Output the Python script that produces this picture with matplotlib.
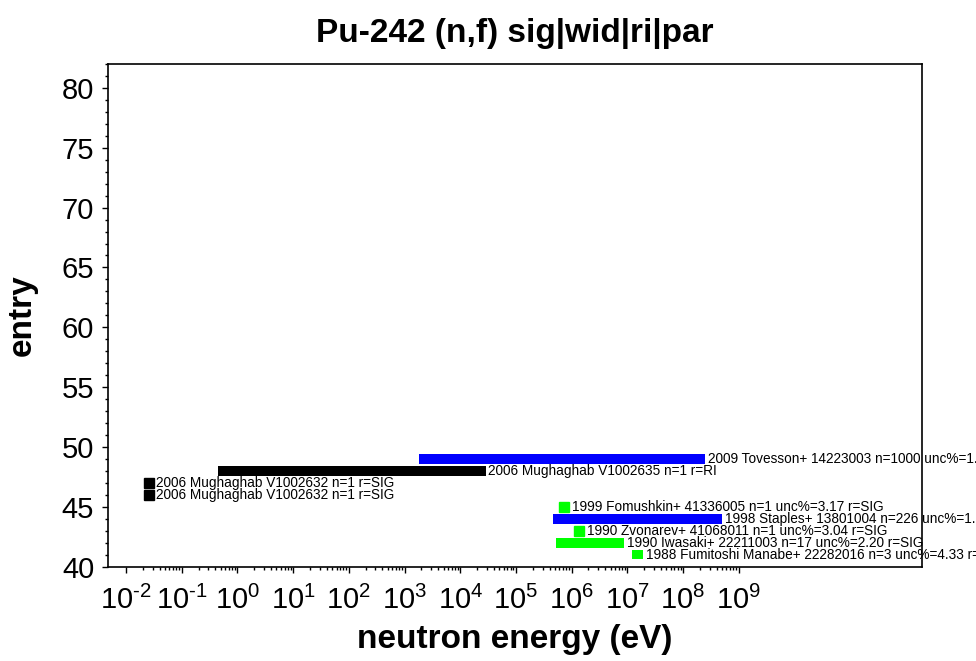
import matplotlib
matplotlib.use("Agg")
import matplotlib.pyplot as plt
from matplotlib.ticker import FixedLocator, MultipleLocator, FuncFormatter
import numpy as np

plt.rcParams['font.family'] = ['Liberation Sans', 'DejaVu Sans']
plt.rcParams['mathtext.fontset'] = 'custom'
plt.rcParams['mathtext.rm'] = 'Liberation Sans'
plt.rcParams['mathtext.it'] = 'Liberation Sans'
plt.rcParams['mathtext.bf'] = 'Liberation Sans:bold'
plt.rcParams['axes.unicode_minus'] = False

# one row per dataset (entry number on the y axis)
entries = [49, 48, 47, 46, 45, 44, 43, 42, 41]
e_low   = [1.8e3, 0.45, 0.0253, 0.0253, 7.4e5, 4.6e5, 1.37e6, 5.2e5, 1.2e7]
e_high  = [2.5e8, 2.85e4, 0.0253, 0.0253, 7.4e5, 5.1e8, 1.37e6, 8.6e6, 1.9e7]
colors  = ['blue', 'black', 'black', 'black', 'lime', 'blue', 'lime', 'lime', 'lime']
labels  = [
    "2009 Tovesson+ 14223003 n=1000 unc%=1.50 r=SIG",
    "2006 Mughaghab V1002635 n=1 r=RI",
    "2006 Mughaghab V1002632 n=1 r=SIG",
    "2006 Mughaghab V1002632 n=1 r=SIG",
    "1999 Fomushkin+ 41336005 n=1 unc%=3.17 r=SIG",
    "1998 Staples+ 13801004 n=226 unc%=1.50 r=SIG",
    "1990 Zvonarev+ 41068011 n=1 unc%=3.04 r=SIG",
    "1990 Iwasaki+ 22211003 n=17 unc%=2.20 r=SIG",
    "1988 Fumitoshi Manabe+ 22282016 n=3 unc%=4.33 r=SIG",
]

fig = plt.figure(figsize=(9.76, 6.61), dpi=100)
ax = fig.add_axes([0.1107, 0.1427, 0.8340, 0.7605])
ax.set_xscale('log')

for y, lo, hi, c, lab in zip(entries, e_low, e_high, colors, labels):
    if hi > lo:
        ax.barh(y, hi - lo, left=lo, height=0.8, color=c, linewidth=0)
        off = 2.0
    else:
        ax.plot([lo], [y], marker='s', ms=6.6, color=c, mec=c, ls='none')
        off = 5.2
    ax.annotate(lab, xy=(hi, y), xytext=(off, 0), textcoords='offset points',
                ha='left', va='center', fontsize=9.8, color='black',
                annotation_clip=False)

ax.set_xlim(10**-2.324, 10**12.29)
ax.set_ylim(40, 82)


def decade_label(v, pos):
    p = int(round(np.log10(v)))
    return r"$\mathdefault{10^{\text{%d}}}$" % p


decades = np.arange(-2, 10)
ax.xaxis.set_major_locator(FixedLocator(10.0 ** decades))
minors = [m * 10.0 ** d for d in decades[:-1] for m in range(2, 10)]
ax.xaxis.set_minor_locator(FixedLocator(minors))
ax.xaxis.set_major_formatter(FuncFormatter(decade_label))
ax.yaxis.set_major_locator(MultipleLocator(5))
ax.yaxis.set_minor_locator(MultipleLocator(1))

ax.tick_params(which='both', direction='out', top=False, right=False,
               labelsize=21, width=1.0)
ax.tick_params(which='major', length=4)
ax.tick_params(which='minor', length=2)
ax.tick_params(axis='y', which='major', pad=6)
ax.tick_params(axis='x', which='major', pad=10)
for s in ax.spines.values():
    s.set_linewidth(1.2)

ax.set_title("Pu-242 (n,f) sig|wid|ri|par", fontsize=24, fontweight='bold', pad=16)
ax.set_xlabel("neutron energy (eV)", fontsize=24, fontweight='bold', labelpad=6)
ax.set_ylabel("entry", fontsize=24, fontweight='bold', labelpad=17)

fig.savefig("out.png", dpi=100)
